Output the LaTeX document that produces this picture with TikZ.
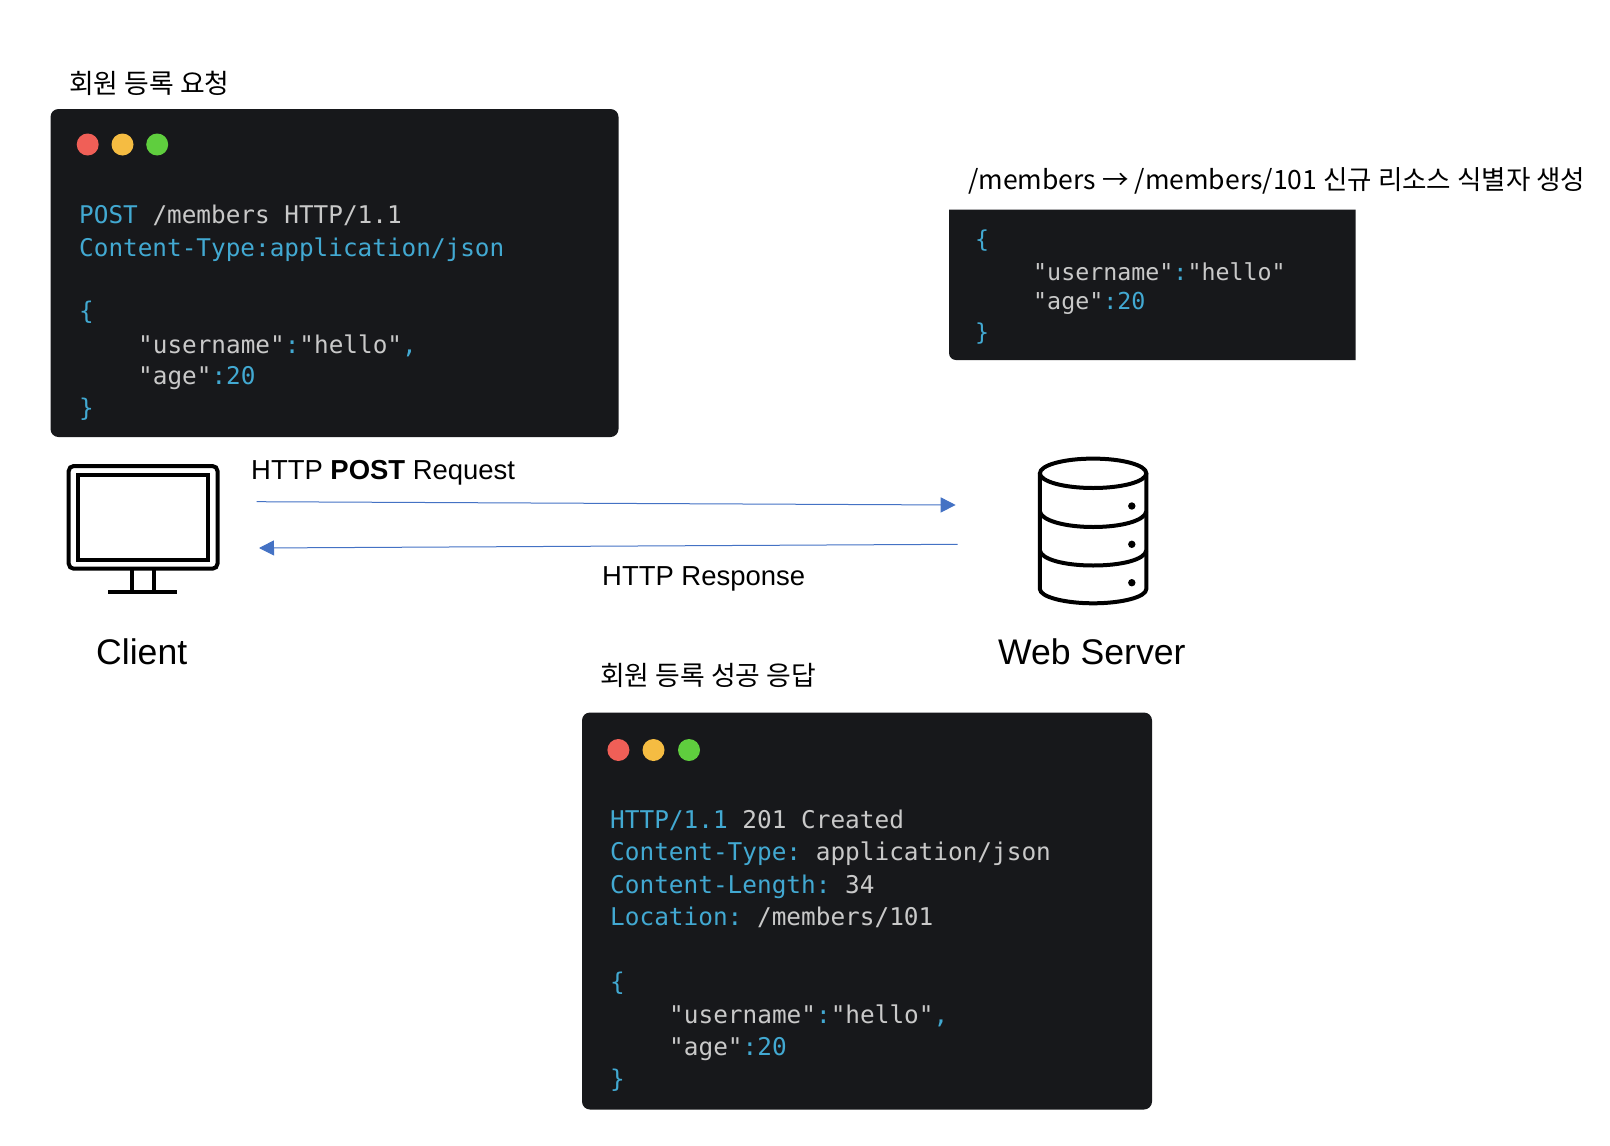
\documentclass[tikz,border=0pt]{standalone}
\usepackage{fontspec}
\usepackage{xcolor}
\usetikzlibrary{arrows.meta}
\setmainfont{Liberation Sans}
\newfontfamily\krfont{Noto Sans CJK KR}
\newfontfamily\codefont{DejaVu Sans Mono}
\definecolor{panelbg}{HTML}{17181B}
\definecolor{codegray}{HTML}{C9C9C9}
\definecolor{codeblue}{HTML}{42A9D2}
\definecolor{dotred}{HTML}{F05F57}
\definecolor{dotyellow}{HTML}{F5BC42}
\definecolor{dotgreen}{HTML}{5FCE3E}
\definecolor{arrowblue}{HTML}{4472C4}
\newcommand{\cb}[1]{\textcolor{codeblue}{#1}}
\tikzset{
    panel/.style={fill=panelbg},
    code/.style={anchor=base west, inner sep=0pt, text=codegray, font=\codefont\frenchspacing\fontsize{24.35}{30}\selectfont},
    codesmall/.style={code, font=\codefont\frenchspacing\fontsize{23.3}{30}\selectfont},
    codeok/.style={code, font=\codefont\frenchspacing\fontsize{24.4}{30}\selectfont},
    title/.style={anchor=base west, inner sep=0pt, text=black, font=\krfont\fontsize{26.85}{30}\selectfont},
    label/.style={anchor=base west, inner sep=0pt, text=black, font=\fontsize{27.45}{32}\selectfont},
    biglabel/.style={anchor=base west, inner sep=0pt, text=black, font=\fontsize{35.6}{40}\selectfont},
    icon/.style={black, line width=4pt},
    flow/.style={arrowblue, line width=1pt, -{Triangle[length=15pt,width=15pt]}}
}
\begin{document}
\begin{tikzpicture}[x=1pt, y=-1pt]
    \useasboundingbox (0,0) rectangle (1610,1146);
    % request panel
    \node[title] (reqtitle) at (69,93) {회원 등록 요청};
    \fill[panel, rounded corners=8pt] (50.5,109) rectangle (618.5,437);
    \fill[dotred] (87.7,144.5) circle (11pt);
    \fill[dotyellow] (122.5,144.5) circle (11pt);
    \fill[dotgreen] (157.2,144.5) circle (11pt);
    \node[code] (req1) at (79,223) {\cb{POST} /members HTTP/1.1};
    \node[code] (req2) at (79,256) {\cb{Content-Type:application/json}};
    \node[code] (req3) at (79,319.5) {\cb{\{}};
    \node[code] (req4) at (138,353) {"username"\cb{:}"hello"\cb{,}};
    \node[code] (req5) at (138,384) {"age"\cb{:20}};
    \node[code] (req6) at (79,416) {\cb{\}}};
    % created resource panel
    \node[label, font=\krfont\fontsize{26.55}{30}\selectfont] (restitle) at (968,189.5) {/members → /members/101 신규 리소스 식별자 생성};
    \fill[panel] (949,209.5) -- (1355.5,209.5) -- (1355.5,360) [rounded corners=7pt] -- (949,360) [sharp corners] -- cycle;
    \node[codesmall] (res1) at (975,247) {\cb{\{}};
    \node[codesmall] (res2) at (1033,280) {"username"\cb{:}"hello"};
    \node[codesmall] (res3) at (1033,309) {"age"\cb{:20}};
    \node[codesmall] (res4) at (975,340) {\cb{\}}};
    % client
    \draw[icon, rounded corners=5pt] (68.7,466) rectangle (217.5,568.7);
    \draw[icon] (78,475.3) rectangle (208,559.7);
    \draw[icon] (131.7,570) -- (131.7,592.3);
    \draw[icon] (154.3,570) -- (154.3,592.3);
    \draw[icon] (108.3,592.3) -- (177.3,592.3);
    \node[biglabel] (client) at (96,664.5) {Client};
    % server
    \draw[icon] (1093.1,473.3) ellipse (53.2pt and 14.7pt);
    \draw[icon] (1039.9,473.3) -- (1039.9,589) .. controls (1039.9,597) and (1065,603.3) .. (1093.1,603.3) .. controls (1122,603.3) and (1146.3,597) .. (1146.3,589) -- (1146.3,473.3);
    \draw[icon] (1039.9,511.5) .. controls (1041.3,520.5) and (1065,527) .. (1093.1,527) .. controls (1122,527) and (1144.8,520.5) .. (1146.3,511.5);
    \draw[icon] (1039.9,550.5) .. controls (1041.3,559.5) and (1065,565.5) .. (1093.1,565.5) .. controls (1122,565.5) and (1144.8,559.5) .. (1146.3,550.5);
    \fill[black] (1131.8,506) circle (3.7pt);
    \fill[black] (1131.8,544.3) circle (3.7pt);
    \fill[black] (1131.8,582.7) circle (3.7pt);
    \node[biglabel] (server) at (998,664.5) {Web Server};
    % requests
    \coordinate (reqstart) at (256.7,501.7);
    \coordinate (reqend) at (955.7,505);
    \coordinate (respstart) at (957.7,544.3);
    \coordinate (respend) at (259,548);
    \draw[flow] (reqstart) -- (reqend);
    \draw[flow] (respstart) -- (respend);
    \node[label] (posttext) at (251,479) {HTTP \textbf{POST} Request};
    \node[label] (resptext) at (602,585.5) {HTTP Response};
    % response panel
    \node[title] (oktitle) at (600,685) {회원 등록 성공 응답};
    \fill[panel, rounded corners=8pt] (582,712.5) rectangle (1152,1109.5);
    \fill[dotred] (618.4,750) circle (11pt);
    \fill[dotyellow] (653.5,750) circle (11pt);
    \fill[dotgreen] (689,750) circle (11pt);
    \node[codeok] (ok1) at (610,828) {\cb{HTTP/1.1} 201 Created};
    \node[codeok] (ok2) at (610,860) {\cb{Content-Type:} application/json};
    \node[codeok] (ok3) at (610,893) {\cb{Content-Length:} 34};
    \node[codeok] (ok4) at (610,925) {\cb{Location:} /members/101};
    \node[codeok] (ok5) at (610,990) {\cb{\{}};
    \node[codeok] (ok6) at (669,1023) {"username"\cb{:}"hello"\cb{,}};
    \node[codeok] (ok7) at (669,1055) {"age"\cb{:20}};
    \node[codeok] (ok8) at (610,1087) {\cb{\}}};
\end{tikzpicture}
\end{document}
